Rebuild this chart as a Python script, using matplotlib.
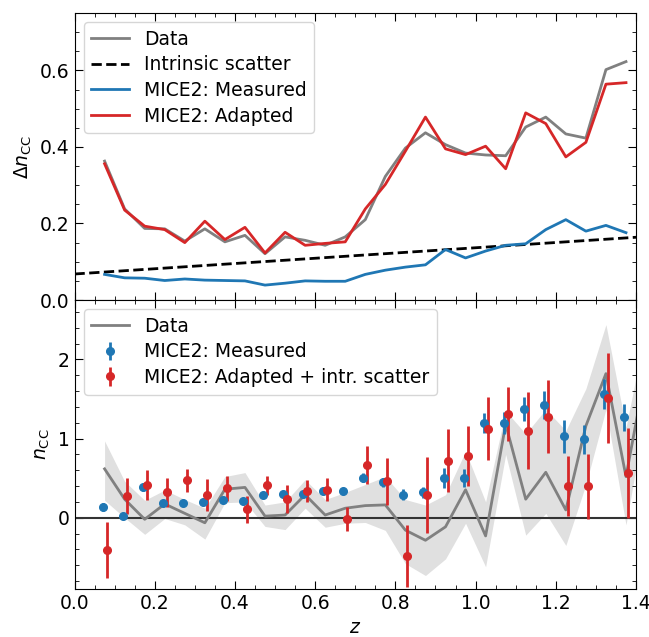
import numpy as np
import matplotlib.pyplot as plt
from matplotlib.ticker import MultipleLocator

# redshift bin centres
z = np.arange(27) * 0.05 + 0.075

# top panel: scatter in n_CC per bin
dn_data = [0.363, 0.238, 0.187, 0.186, 0.154, 0.186, 0.152, 0.169, 0.121, 0.165,
           0.156, 0.143, 0.165, 0.210, 0.323, 0.397, 0.437, 0.406, 0.384, 0.379,
           0.377, 0.452, 0.478, 0.434, 0.423, 0.602, 0.623]
dn_measured = [0.067, 0.058, 0.057, 0.051, 0.055, 0.052, 0.051, 0.050, 0.039, 0.044,
               0.050, 0.049, 0.049, 0.067, 0.078, 0.086, 0.092, 0.132, 0.110, 0.128,
               0.143, 0.147, 0.184, 0.210, 0.180, 0.195, 0.176]
dn_adapted = [0.356, 0.235, 0.193, 0.184, 0.150, 0.206, 0.158, 0.190, 0.123, 0.177,
              0.143, 0.148, 0.152, 0.238, 0.302, 0.389, 0.478, 0.395, 0.380, 0.402,
              0.343, 0.489, 0.461, 0.374, 0.412, 0.564, 0.568]
intr_z = [0.0, 1.4]
intr_scatter = [0.068, 0.164]

# bottom panel: n_CC per bin (data has one extra bin beyond the axis)
z_data = np.arange(28) * 0.05 + 0.075
n_data = [0.617, 0.234, -0.02, 0.174, 0.055, -0.064, 0.36, 0.383, 0.02, 0.034,
          0.29, 0.034, 0.12, 0.153, 0.162, -0.157, -0.285, -0.115, 0.353, -0.23,
          1.18, 0.234, 0.574, 0.098, 1.16, 1.82, 0.52, 1.88]
n_data_lo = [0.22, 0.0, -0.21, -0.01, -0.09, -0.27, 0.19, 0.20, -0.11, -0.15,
             0.12, -0.12, -0.07, -0.06, -0.16, -0.58, -0.73, -0.52, -0.07, -0.62,
             0.80, -0.22, 0.055, -0.35, 0.42, 1.37, -0.09, 1.35]
n_data_hi = [0.97, 0.46, 0.22, 0.35, 0.23, 0.12, 0.52, 0.57, 0.16, 0.20,
             0.48, 0.23, 0.32, 0.42, 0.52, 0.23, 0.16, 0.29, 0.84, 0.20,
             1.35, 1.06, 1.37, 1.10, 1.63, 2.44, 1.14, 2.40]

n_measured = [0.14, 0.02, 0.383, 0.183, 0.187, 0.20, 0.22, 0.213, 0.285, 0.30,
              0.298, 0.34, 0.34, 0.506, 0.447, 0.29, 0.32, 0.50, 0.50, 1.196,
              1.20, 1.37, 1.425, 1.03, 0.99, 1.566, 1.268]
n_measured_err = [0.05, 0.04, 0.04, 0.03, 0.03, 0.03, 0.03, 0.03, 0.03, 0.03,
                  0.03, 0.03, 0.03, 0.06, 0.06, 0.07, 0.07, 0.13, 0.11, 0.125,
                  0.14, 0.15, 0.18, 0.21, 0.18, 0.19, 0.17]
n_adapted = [-0.404, 0.277, 0.417, 0.32, 0.472, 0.29, 0.37, 0.106, 0.413, 0.234,
             0.34, 0.353, -0.013, 0.664, 0.46, -0.48, 0.285, 0.72, 0.78, 1.123,
             1.306, 1.10, 1.277, 0.404, 0.396, 1.51, 0.566]
n_adapted_err = [0.355, 0.23, 0.19, 0.18, 0.145, 0.2, 0.16, 0.17, 0.12, 0.18,
                 0.14, 0.145, 0.15, 0.24, 0.30, 0.39, 0.48, 0.40, 0.38, 0.40,
                 0.34, 0.49, 0.46, 0.38, 0.41, 0.57, 0.57]

plt.rcParams['font.size'] = 13.5

fig = plt.figure(figsize=(6.49, 6.37), dpi=100)
ax1 = fig.add_axes([0.1148, 0.529, 0.8652, 0.4506])
ax2 = fig.add_axes([0.1148, 0.0754, 0.8652, 0.4536], sharex=ax1)

# top panel
ax1.plot(z, dn_data, color='gray', lw=2, label='Data')
ax1.plot(intr_z, intr_scatter, color='k', ls='--', lw=2, label='Intrinsic scatter')
ax1.plot(z, dn_measured, color='tab:blue', lw=2, label='MICE2: Measured')
ax1.plot(z, dn_adapted, color='tab:red', lw=2, label='MICE2: Adapted')
ax1.set_ylim(0, 0.75)
ax1.set_ylabel(r'$\Delta n_{\rm CC}$')
ax1.legend(loc='upper left', labelspacing=0.35)
ax1.yaxis.set_major_locator(MultipleLocator(0.2))
ax1.yaxis.set_minor_locator(MultipleLocator(0.05))
plt.setp(ax1.get_xticklabels(), visible=False)

# bottom panel
ax2.fill_between(z_data, n_data_lo, n_data_hi, color='#e0e0e0', lw=0)
ax2.axhline(0, color='0.2', lw=1.5)
ax2.plot(z_data, n_data, color='gray', lw=2, label='Data')
ax2.errorbar(z - 0.005, n_measured, yerr=n_measured_err, fmt='o', ms=5.5,
             elinewidth=2, color='tab:blue', label='MICE2: Measured')
ax2.errorbar(z + 0.005, n_adapted, yerr=n_adapted_err, fmt='o', ms=5.5,
             elinewidth=2, color='tab:red', label='MICE2: Adapted + intr. scatter')
ax2.set_ylim(-0.9, 2.75)
ax2.set_xlim(0, 1.4)
ax2.set_xlabel('$z$')
ax2.set_ylabel(r'$n_{\rm CC}$')
ax2.legend(loc='upper left', labelspacing=0.35)
ax2.yaxis.set_major_locator(MultipleLocator(1))
ax2.yaxis.set_minor_locator(MultipleLocator(0.2))
ax2.xaxis.set_major_locator(MultipleLocator(0.2))
ax2.xaxis.set_minor_locator(MultipleLocator(0.05))

for ax in (ax1, ax2):
    ax.tick_params(which='both', direction='in', top=True, right=True)
    ax.tick_params(which='major', length=6)
    ax.tick_params(which='minor', length=3)

fig.savefig('out.png', dpi=100)
